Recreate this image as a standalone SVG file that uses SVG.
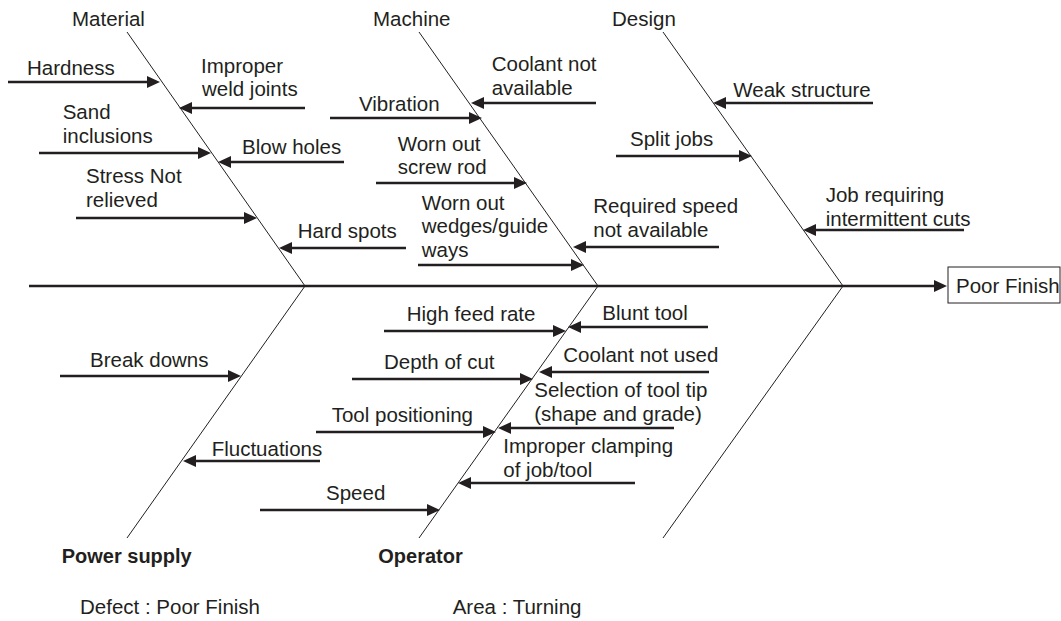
<svg xmlns="http://www.w3.org/2000/svg" width="1061" height="621" viewBox="0 0 1061 621">
<defs>
<style>
text{font-family:"Liberation Sans",Arial,sans-serif;font-size:20.5px;fill:#231f20}
.b{font-weight:bold;font-size:20px}
.bone{stroke:#231f20;stroke-width:1;fill:none}
.arr{stroke:#231f20;stroke-width:2.5;fill:none;marker-end:url(#ah)}
</style>
<marker id="ah" markerUnits="userSpaceOnUse" markerWidth="14" markerHeight="13" refX="5" refY="6" orient="auto">
<path d="M0,0 L13,6 L0,12 z" fill="#231f20"/>
</marker>
</defs>
<rect width="1061" height="621" fill="#fff"/>
<g id="connectors">
<line class="bone" x1="127" y1="32" x2="305" y2="286"/>
<line class="bone" x1="305" y1="286" x2="127" y2="538"/>
<line class="bone" x1="419" y1="32" x2="598" y2="286"/>
<line class="bone" x1="598" y1="286" x2="419" y2="538"/>
<line class="bone" x1="663" y1="32" x2="843" y2="286"/>
<line class="bone" x1="843" y1="286" x2="663" y2="538"/>
<line class="arr" x1="29" y1="286" x2="939" y2="286"/>
<line class="arr" x1="8" y1="82" x2="152" y2="82"/>
<line class="arr" x1="305" y1="108" x2="187" y2="108"/>
<line class="arr" x1="39" y1="153" x2="203" y2="153"/>
<line class="arr" x1="344" y1="162" x2="226" y2="162"/>
<line class="arr" x1="76" y1="218" x2="249" y2="218"/>
<line class="arr" x1="406" y1="248" x2="287" y2="248"/>
<line class="arr" x1="596" y1="103" x2="479" y2="103"/>
<line class="arr" x1="330" y1="118" x2="474" y2="118"/>
<line class="arr" x1="376" y1="183" x2="519" y2="183"/>
<line class="arr" x1="418" y1="265" x2="576" y2="265"/>
<line class="arr" x1="719" y1="247" x2="581" y2="247"/>
<line class="arr" x1="873" y1="103" x2="721" y2="103"/>
<line class="arr" x1="616" y1="156" x2="744" y2="156"/>
<line class="arr" x1="964" y1="230" x2="811" y2="230"/>
<line class="arr" x1="60" y1="376" x2="233" y2="376"/>
<line class="arr" x1="320" y1="461" x2="191" y2="461"/>
<line class="arr" x1="384" y1="331" x2="558" y2="331"/>
<line class="arr" x1="708" y1="327" x2="576" y2="327"/>
<line class="arr" x1="352" y1="379" x2="525" y2="379"/>
<line class="arr" x1="709" y1="372" x2="547" y2="372"/>
<line class="arr" x1="674" y1="428" x2="506" y2="428"/>
<line class="arr" x1="316" y1="432" x2="488" y2="432"/>
<line class="arr" x1="635" y1="483" x2="466" y2="483"/>
<line class="arr" x1="260" y1="510" x2="432" y2="510"/>
</g>
<g id="effect">
<rect x="948" y="267" width="112" height="36" fill="#fff" stroke="#231f20" stroke-width="1"/>
<text x="956" y="293.3">Poor Finish</text>
</g>
<g id="cat-material"><text x="72" y="25.5">Material</text></g>
<g id="cat-machine"><text x="373" y="25.5">Machine</text></g>
<g id="cat-design"><text x="612" y="25.5">Design</text></g>
<g id="cat-power"><text class="b" x="61.7" y="563.3">Power supply</text></g>
<g id="cat-operator"><text class="b" x="378.3" y="563.3">Operator</text></g>
<g id="c-hardness"><text x="27" y="75">Hardness</text></g>
<g id="c-weld"><text x="201" y="73">Improper</text><text x="202" y="96">weld joints</text></g>
<g id="c-sand"><text x="62.7" y="119">Sand</text><text x="62.7" y="143">inclusions</text></g>
<g id="c-blow"><text x="242" y="154">Blow holes</text></g>
<g id="c-stress"><text x="86" y="183">Stress Not</text><text x="86" y="206.7">relieved</text></g>
<g id="c-hardspots"><text x="297.7" y="238">Hard spots</text></g>
<g id="c-coolant"><text x="491.7" y="71">Coolant not</text><text x="491.7" y="95">available</text></g>
<g id="c-vibration"><text x="359" y="110.7">Vibration</text></g>
<g id="c-screw"><text x="397.7" y="150.7">Worn out</text><text x="397.7" y="174.3">screw rod</text></g>
<g id="c-wedges"><text x="421.7" y="210">Worn out</text><text x="421.7" y="233.3">wedges/guide</text><text x="421.7" y="256.7">ways</text></g>
<g id="c-speedavail"><text x="593.3" y="213.3">Required speed</text><text x="593.3" y="236.7">not available</text></g>
<g id="c-weak"><text x="733.3" y="96.7">Weak structure</text></g>
<g id="c-split"><text x="630" y="145.7">Split jobs</text></g>
<g id="c-job"><text x="825.7" y="201.7">Job requiring</text><text x="825.7" y="225.7">intermittent cuts</text></g>
<g id="c-break"><text x="90" y="367.3">Break downs</text></g>
<g id="c-fluct"><text x="211.7" y="455.7">Fluctuations</text></g>
<g id="c-feed"><text x="406.7" y="320.7">High feed rate</text></g>
<g id="c-blunt"><text x="602.3" y="320">Blunt tool</text></g>
<g id="c-depth"><text x="384" y="369.3">Depth of cut</text></g>
<g id="c-coolused"><text x="563.3" y="362.3">Coolant not used</text></g>
<g id="c-selection"><text x="534.3" y="397.3">Selection of tool tip</text><text x="534.3" y="420.7">(shape and grade)</text></g>
<g id="c-toolpos"><text x="331.7" y="421.7">Tool positioning</text></g>
<g id="c-clamp"><text x="503.3" y="453.3">Improper clamping</text><text x="503.3" y="476.7">of job/tool</text></g>
<g id="c-speed"><text x="326" y="500">Speed</text></g>
<g id="footer"><text x="80" y="613.7">Defect : Poor Finish</text><text x="452.7" y="613.7">Area : Turning</text></g>
</svg>
